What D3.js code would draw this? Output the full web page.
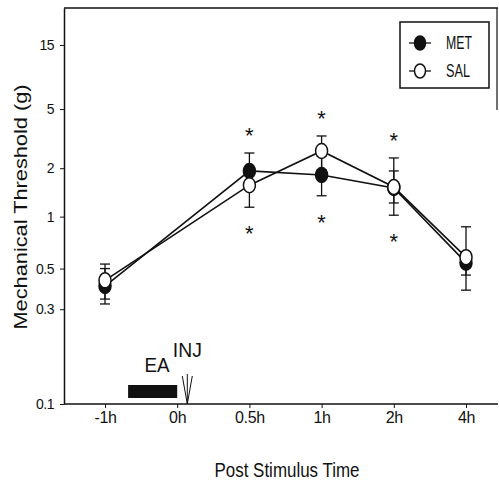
<!DOCTYPE html>
<html>
<head>
<meta charset="utf-8">
<script src="https://cdn.jsdelivr.net/npm/d3@7"></script>
<style>
  body { margin: 0; background: #fff; }
  svg text { font-family: "Liberation Sans", Arial, sans-serif; fill: #111; }
  .narrow { font-family: "Liberation Sans Narrow", "Liberation Sans", Arial, sans-serif; }
</style>
</head>
<body>
<div id="chart"></div>
<script>
// categories on the time axis
var times = ["-1h", "0h", "0.5h", "1h", "2h", "4h"];
// times where thresholds were measured
var obsTimes = ["-1h", "0.5h", "1h", "2h", "4h"];

// MET group (filled circles): mean and error bar ends, grams
var metMean = [0.40, 1.92, 1.81, 1.50, 0.54];
var metHi   = [0.53, 2.51, 2.40, 2.33, 0.62];
var metLo   = [0.32, 1.55, 1.34, 1.02, 0.38];

// SAL group (open circles)
var salMean = [0.43, 1.56, 2.59, 1.52, 0.58];
var salHi   = [0.50, 1.95, 3.26, 1.92, 0.87];
var salLo   = [0.34, 1.14, 1.95, 1.21, 0.46];

// significance stars (above and below)
var sigTimes = ["0.5h", "1h", "2h"];

var yTicks = [0.1, 0.3, 0.5, 1, 2, 5, 15];

// EA stimulation block and injection, in time-axis steps (0 = -1h, 1 = 0h)
var eaBlock = [0.32, 1];
var injAt = 1.14;

var W = 499, H = 483;
var pLeft = 64, pRight = 498, pTop = 8, pBottom = 404;

var svg = d3.select("#chart").append("svg")
    .attr("width", W)
    .attr("height", H);

var x = d3.scalePoint().domain(times).range([105, 466]);
// step positions for annotations between categories
var xs = d3.scaleLinear().domain([0, times.length - 1]).range(x.range());
var y = d3.scalePow().exponent(-0.1).domain([0.1, 30]).range([pBottom, pTop]);

// frame
svg.append("line").attr("x1", pLeft).attr("x2", pRight).attr("y1", pTop).attr("y2", pTop)
    .attr("stroke", "#111").attr("stroke-width", 1.5);
svg.append("line").attr("x1", pRight - 1).attr("x2", pRight - 1).attr("y1", pTop).attr("y2", 110)
    .attr("stroke", "#111").attr("stroke-width", 1.2);
svg.append("line").attr("x1", pLeft).attr("x2", pRight).attr("y1", pBottom).attr("y2", pBottom)
    .attr("stroke", "#111").attr("stroke-width", 1.5);

// y axis
var yAxis = svg.append("g")
    .attr("transform", "translate(" + pLeft + ",0)")
    .call(d3.axisLeft(y).tickValues(yTicks).tickFormat(function(d) { return d; })
        .tickSize(4).tickPadding(6).tickSizeOuter(0));
yAxis.select(".domain").attr("stroke", "#111").attr("stroke-width", 1.5);
yAxis.selectAll(".tick line").attr("stroke", "#111");
yAxis.selectAll(".tick text").style("font-size", "14px").attr("letter-spacing", "-0.5");

// x axis
var xAxis = svg.append("g")
    .attr("transform", "translate(0," + pBottom + ")")
    .call(d3.axisBottom(x).tickSize(4).tickPadding(4));
xAxis.select(".domain").remove();
xAxis.selectAll(".tick line").attr("stroke", "#111");
xAxis.selectAll(".tick text").style("font-size", "16px").attr("letter-spacing", "-0.3");

// axis titles
svg.append("text")
    .attr("transform", "translate(27,207) rotate(-90)")
    .attr("text-anchor", "middle")
    .attr("textLength", 245)
    .attr("lengthAdjust", "spacingAndGlyphs")
    .style("font-size", "18px")
    .text("Mechanical Threshold (g)");

svg.append("text")
    .attr("class", "narrow")
    .attr("x", 287).attr("y", 477)
    .attr("text-anchor", "middle")
    .attr("textLength", 145)
    .attr("lengthAdjust", "spacingAndGlyphs")
    .style("font-size", "20px")
    .text("Post Stimulus Time");

// EA block and injection arrow
svg.append("rect")
    .attr("x", xs(eaBlock[0])).attr("width", xs(eaBlock[1]) - xs(eaBlock[0]))
    .attr("y", pBottom - 19).attr("height", 13)
    .attr("fill", "#111");
svg.append("text")
    .attr("x", xs(eaBlock[0]) + 29).attr("y", pBottom - 32)
    .attr("text-anchor", "middle")
    .attr("textLength", 25).attr("lengthAdjust", "spacingAndGlyphs")
    .style("font-size", "21px")
    .text("EA");
var ax = xs(injAt);
svg.append("text")
    .attr("x", ax).attr("y", pBottom - 47)
    .attr("text-anchor", "middle")
    .attr("textLength", 29).attr("lengthAdjust", "spacingAndGlyphs")
    .style("font-size", "20px")
    .text("INJ");
svg.append("path")
    .attr("d", "M" + ax + "," + (pBottom - 30) + "V" + pBottom +
               "M" + (ax - 5) + "," + (pBottom - 28) + "L" + ax + "," + pBottom +
               "L" + (ax + 5) + "," + (pBottom - 28))
    .attr("fill", "none").attr("stroke", "#111").attr("stroke-width", 1);

function rows(mean, hi, lo) {
    return obsTimes.map(function(t, i) {
        return { t: t, v: mean[i], hi: hi[i], lo: lo[i] };
    });
}
var met = rows(metMean, metHi, metLo);
var sal = rows(salMean, salHi, salLo);

var line = d3.line()
    .x(function(d) { return x(d.t); })
    .y(function(d) { return y(d.v); });

[met, sal].forEach(function(s) {
    svg.append("path").datum(s)
        .attr("d", line)
        .attr("fill", "none").attr("stroke", "#111").attr("stroke-width", 1.6);
});

// error bars
function errorBars(s) {
    var g = svg.append("g").attr("stroke", "#111").attr("stroke-width", 1.3);
    s.forEach(function(d) {
        var cx = x(d.t);
        g.append("line").attr("x1", cx).attr("x2", cx).attr("y1", y(d.hi)).attr("y2", y(d.lo));
        [d.hi, d.lo].forEach(function(v) {
            g.append("line").attr("x1", cx - 5).attr("x2", cx + 5).attr("y1", y(v)).attr("y2", y(v));
        });
    });
}
errorBars(met);
errorBars(sal);

// markers
svg.selectAll(".met").data(met).enter().append("ellipse")
    .attr("cx", function(d) { return x(d.t); })
    .attr("cy", function(d) { return y(d.v); })
    .attr("rx", 6).attr("ry", 7.5)
    .attr("fill", "#111").attr("stroke", "#111").attr("stroke-width", 1.5);
svg.selectAll(".sal").data(sal).enter().append("ellipse")
    .attr("cx", function(d) { return x(d.t); })
    .attr("cy", function(d) { return y(d.v); })
    .attr("rx", 6).attr("ry", 7.5)
    .attr("fill", "#fff").attr("stroke", "#111").attr("stroke-width", 1.5);

// significance stars
sigTimes.forEach(function(t) {
    var i = obsTimes.indexOf(t);
    var hiY = y(Math.max(metHi[i], salHi[i])) - 23;
    var loY = y(Math.min(metLo[i], salLo[i])) + 21;
    [hiY, loY].forEach(function(cy) {
        svg.append("text")
            .attr("x", x(t)).attr("y", cy + 13)
            .attr("text-anchor", "middle")
            .style("font-size", "22px")
            .text("*");
    });
});

// legend
var lg = svg.append("g").attr("transform", "translate(" + (pRight - 98) + "," + (pTop + 14) + ")");
lg.append("rect").attr("width", 89).attr("height", 66)
    .attr("fill", "#fff").attr("stroke", "#111").attr("stroke-width", 1.5);
var legendItems = [{ name: "MET", fill: "#111" }, { name: "SAL", fill: "#fff" }];
legendItems.forEach(function(it, i) {
    var ly = 21 + i * 28;
    lg.append("line").attr("x1", 9).attr("x2", 31).attr("y1", ly).attr("y2", ly)
        .attr("stroke", "#111").attr("stroke-width", 1.3);
    lg.append("ellipse").attr("cx", 20).attr("cy", ly).attr("rx", 5.5).attr("ry", 7)
        .attr("fill", it.fill).attr("stroke", "#111").attr("stroke-width", 1.5);
    lg.append("text").attr("class", "narrow")
        .attr("x", 46).attr("y", ly + 6)
        .attr("textLength", i === 0 ? 26 : 24).attr("lengthAdjust", "spacingAndGlyphs")
        .style("font-size", "18px")
        .text(it.name);
});
</script>
</body>
</html>
